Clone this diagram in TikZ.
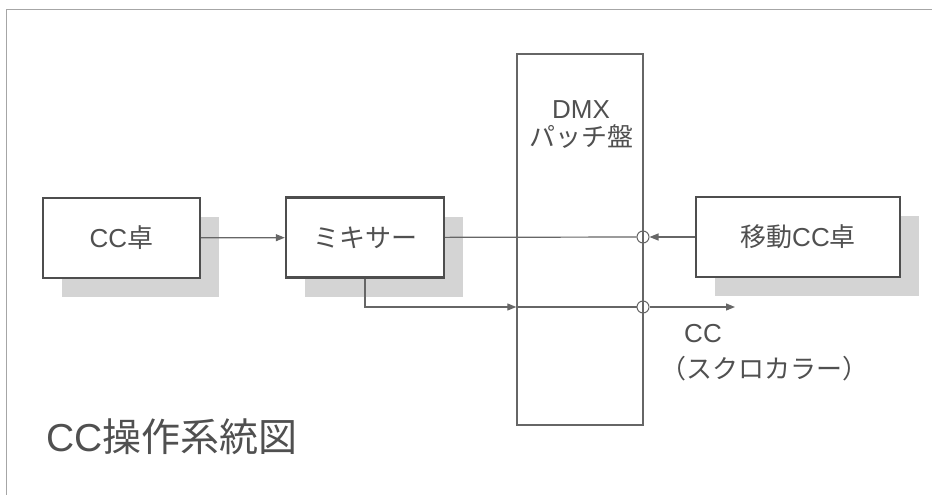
\documentclass[tikz,border=0pt]{standalone}
\usepackage{fontspec}
\setmainfont{Liberation Sans}
\newfontfamily\jp{Noto Sans CJK JP}
\usepackage{xcolor}
\usepackage{tikz}
\usetikzlibrary{arrows.meta, shadows}
\definecolor{textgray}{HTML}{505050}
\definecolor{boxgray}{HTML}{4E4E4E}
\definecolor{linegray}{HTML}{666666}
\definecolor{shadowgray}{HTML}{D4D4D4}

\begin{document}
\begin{tikzpicture}
                        [x=1pt, y=-1pt,
                         every node/.style={text=textgray, inner sep=0pt},
                         unit/.style={draw=boxgray, line width=2.4pt, fill=white,
                                      minimum width=157pt, minimum height=80pt,
                                      font=\fontsize{26}{30}\selectfont,
                                      drop shadow={shadow xshift=19pt, shadow yshift=-19pt,
                                                   fill=shadowgray, opacity=1}},
                         patch/.style={draw=linegray, line width=1.4pt,
                                       minimum width=126pt, minimum height=371pt},
                         jack/.style={draw=linegray, circle, line width=1pt, minimum size=12pt},
                         wire/.style={draw=linegray, line width=1.2pt},
                         sig/.style={wire, -{Triangle[length=9pt, width=7pt]}},
                         lbl/.style={font=\fontsize{26}{28}\selectfont}]

                        \useasboundingbox (0,0) rectangle (932,495);
                        \draw[gray!70, line width=1pt] (6,495) -- (6,10) -- (932,10); % frame

                        \node[patch] (dmx) at (580,239.5) {};
                        \node[lbl, align=center] (dmxlbl) at (581,125) {DMX\\{\jp パッチ盤}};

                        \node[unit] (cc) at (121.5,238) {CC{\jp 卓}};
                        \node[unit, minimum width=158pt] (mix) at (365,237.5) {{\jp ミキサー}};
                        \node[unit, minimum width=204pt] (mov) at (798,237) {{\jp 移動}CC{\jp 卓}};

                        \node[jack] (in) at (643,237) {};
                        \node[jack] (out) at (643,307) {};
                        \coordinate (end) at (735,307);

                        \draw[sig] (cc) -- (mix);
                        \draw[wire] (mix) -- (in);
                        \draw[sig] (mov) -- (in);
                        \draw[sig] (mix.south) |- (dmx.west |- out);
                        \draw[wire] (dmx.west |- out) -- (out);
                        \draw[sig] (out) -- (end);

                        \node[lbl] (cclbl) at (703,334) {CC};
                        \node[lbl] (sclbl) at (764,369) {{\jp （スクロカラー）}};

                        \node[anchor=west, font=\fontsize{39}{44}\selectfont] (title) at (46,437)
                            {CC{\jp 操作系統図}};
                    \end{tikzpicture}
\end{document}
